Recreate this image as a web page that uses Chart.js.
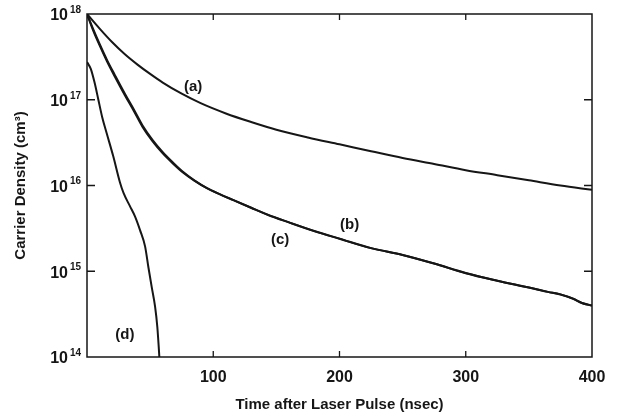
<!DOCTYPE html>
<html>
<head>
<meta charset="utf-8">
<script src="https://cdn.jsdelivr.net/npm/chart.js@4"></script>
<style>
  html, body { margin: 0; padding: 0; background: #fff; }
  canvas { display: block; }
</style>
</head>
<body>
<canvas id="decayChart" width="617" height="415"></canvas>
<script>
// -----------------------------
// Data
// -----------------------------
const timeA = [0, 10, 20, 30, 40, 50, 60, 75, 90, 110, 130, 150, 175, 200, 225, 250, 275, 300, 325, 350, 375, 400];
const densA = [1e18, 6.76e17, 4.68e17, 3.39e17, 2.57e17, 2.0e17, 1.585e17, 1.175e17, 9.12e16, 6.92e16, 5.5e16, 4.47e16,
  3.63e16, 3.02e16, 2.51e16, 2.09e16, 1.78e16, 1.51e16, 1.32e16, 1.15e16, 1.0e16, 8.9e15];

const timeB = [0, 5, 10, 16, 22, 30, 37, 44, 52, 60, 68, 76, 85, 95, 105, 116, 130, 143, 160, 180, 200,
  225, 250, 275, 300, 325, 350, 365, 375, 385, 392, 400];
const densB = [1e18, 6.61e17, 4.47e17, 2.88e17, 1.95e17, 1.175e17, 7.76e16, 5.01e16, 3.39e16, 2.45e16, 1.86e16,
  1.445e16, 1.148e16, 9.33e15, 7.94e15, 6.76e15, 5.5e15, 4.57e15, 3.72e15, 2.95e15, 2.4e15,
  1.86e15, 1.55e15, 1.23e15, 9.55e14, 7.76e14, 6.46e14, 5.75e14, 5.37e14, 4.79e14, 4.27e14, 3.98e14];

const timeC = [0, 5, 10, 16, 22, 30, 37, 44, 52, 60, 68, 76, 85, 95, 105, 116, 130, 143, 160, 180, 200,
  225, 250, 275, 300, 325, 350, 365, 375, 385, 392, 400];
const densC = [1e18, 6.35e17, 4.3e17, 2.77e17, 1.87e17, 1.13e17, 7.45e16, 4.82e16, 3.27e16, 2.37e16, 1.81e16,
  1.42e16, 1.14e16, 9.3e15, 7.92e15, 6.75e15, 5.5e15, 4.56e15, 3.71e15, 2.94e15, 2.39e15,
  1.86e15, 1.55e15, 1.23e15, 9.5e14, 7.75e14, 6.45e14, 5.75e14, 5.35e14, 4.78e14, 4.26e14, 3.97e14];

const timeD = [0, 3, 6, 9, 12, 15.6, 20.8, 26, 29, 34, 38, 42, 46, 48.6, 51.2, 53.9, 55.7, 56.8, 57.3];
const densD = [2.75e17, 2.29e17, 1.585e17, 1e17, 6.31e16, 4.07e16, 2.19e16, 1.1e16, 8.13e15, 5.75e15, 4.37e15,
  3.02e15, 1.95e15, 1.12e15, 6.61e14, 3.89e14, 2.24e14, 1.32e14, 1e14];

const curveNames = ["(a)", "(b)", "(c)", "(d)"];
const nameTime = [84, 208, 153, 30];
const nameDens = [1.4e17, 3.5e15, 2.3e15, 1.8e14];

const xTickValues = [100, 200, 300, 400];
const yTickExps = [14, 15, 16, 17, 18];

// -----------------------------
// Helpers
// -----------------------------
const INK = "#161616";
const FONT = "'Liberation Sans', Arial, sans-serif";

function toPoints(xs, ys) {
  return xs.map((x, i) => ({ x: x, y: ys[i] }));
}

function curve(label, xs, ys) {
  return {
    label: label,
    data: toPoints(xs, ys),
    borderColor: INK,
    borderWidth: 2,
    pointRadius: 0,
    fill: false,
    cubicInterpolationMode: "monotone"
  };
}

// Frame, inward ticks, y labels with superscripts, curve names
const figurePlugin = {
  id: "figureDecor",
  afterDraw(chart) {
    const { ctx, chartArea: a, scales } = chart;
    const xs = scales.x, ys = scales.y;
    ctx.save();
    ctx.strokeStyle = INK;
    ctx.lineWidth = 1.5;
    ctx.strokeRect(a.left, a.top, a.right - a.left, a.bottom - a.top);

    ctx.lineWidth = 1.3;
    ctx.beginPath();
    xTickValues.slice(0, -1).forEach(v => {
      const px = xs.getPixelForValue(v);
      ctx.moveTo(px, a.bottom); ctx.lineTo(px, a.bottom - 6);
      ctx.moveTo(px, a.top); ctx.lineTo(px, a.top + 6);
    });
    yTickExps.slice(1, -1).forEach(e => {
      const py = ys.getPixelForValue(Math.pow(10, e));
      ctx.moveTo(a.left, py); ctx.lineTo(a.left + 8, py);
      ctx.moveTo(a.right, py); ctx.lineTo(a.right - 8, py);
    });
    ctx.stroke();

    ctx.fillStyle = INK;
    yTickExps.forEach(e => {
      const py = ys.getPixelForValue(Math.pow(10, e));
      ctx.font = "bold 16px " + FONT;
      ctx.textAlign = "right";
      ctx.textBaseline = "middle";
      ctx.fillText("10", a.left - 19, py + 2);
      ctx.font = "bold 10px " + FONT;
      ctx.textAlign = "left";
      ctx.fillText(String(e), a.left - 17, py - 4);
    });

    ctx.font = "bold 15px " + FONT;
    ctx.textAlign = "center";
    ctx.textBaseline = "middle";
    curveNames.forEach((name, i) => {
      ctx.fillText(name, xs.getPixelForValue(nameTime[i]), ys.getPixelForValue(nameDens[i]));
    });
    ctx.restore();
  }
};

// -----------------------------
// Chart.js Initialization
// -----------------------------
document.addEventListener("DOMContentLoaded", () => {
  const ctx = document.getElementById("decayChart");

  new Chart(ctx, {
    type: "line",
    data: {
      datasets: [
        curve("(a)", timeA, densA),
        curve("(b)", timeB, densB),
        curve("(c)", timeC, densC),
        curve("(d)", timeD, densD)
      ]
    },
    options: {
      responsive: false,
      animation: false,
      layout: { padding: { top: 14, right: 25, left: 0, bottom: 0 } },
      plugins: {
        legend: { display: false },
        tooltip: { enabled: false }
      },
      scales: {
        x: {
          type: "linear",
          min: 0,
          max: 400,
          grid: { display: false },
          border: { display: false },
          ticks: {
            stepSize: 100,
            color: INK,
            padding: 3,
            maxRotation: 0,
            font: { family: FONT, size: 16, weight: "bold" },
            callback: v => (xTickValues.includes(v) ? String(v) : "")
          },
          title: {
            display: true,
            text: "Time after Laser Pulse (nsec)",
            color: INK,
            padding: { top: 0, bottom: 1 },
            font: { family: FONT, size: 15, weight: "bold" }
          },
          afterFit: s => { s.height = 58; }
        },
        y: {
          type: "logarithmic",
          min: 1e14,
          max: 1e18,
          grid: { display: false },
          border: { display: false },
          ticks: { display: false },
          afterBuildTicks: s => {
            s.ticks = yTickExps.map(e => ({ value: Math.pow(10, e) }));
          },
          title: {
            display: true,
            text: "Carrier Density (cm³)",
            color: INK,
            padding: { top: 12, bottom: 0 },
            font: { family: FONT, size: 15, weight: "bold" }
          },
          afterFit: s => { s.width = 87; }
        }
      }
    },
    plugins: [figurePlugin]
  });
});
</script>
</body>
</html>
